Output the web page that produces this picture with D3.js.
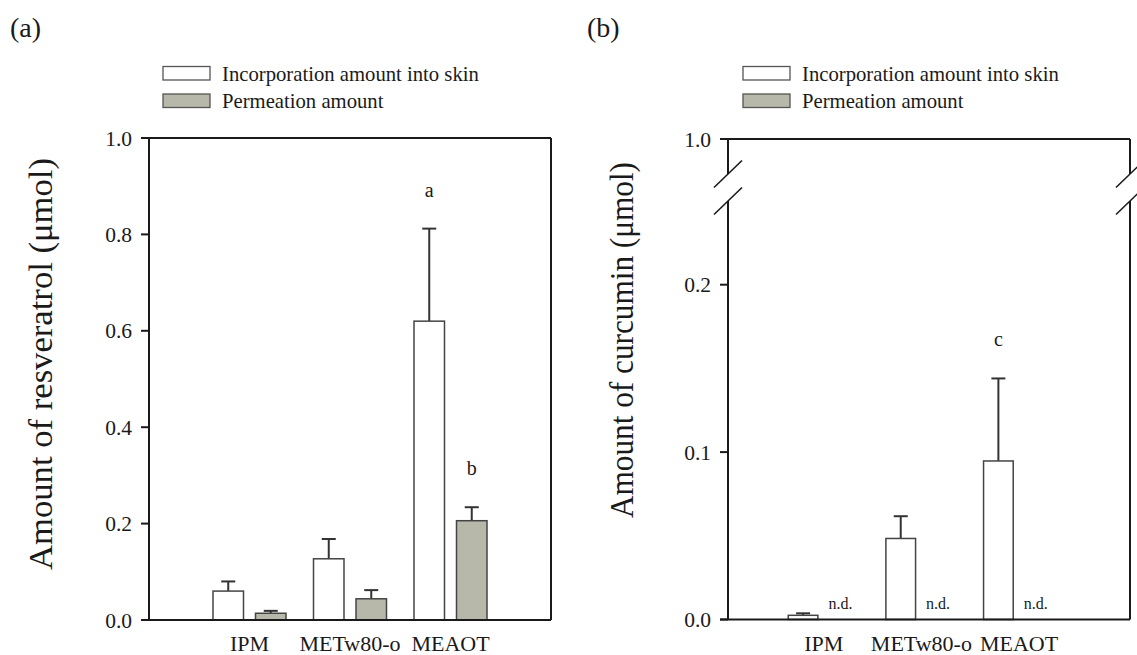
<!DOCTYPE html>
<html>
<head>
<meta charset="utf-8">
<script src="https://cdn.jsdelivr.net/npm/d3@7"></script>
<style>
  html, body { margin: 0; padding: 0; background: #fff; }
  svg { display: block; }
  text { font-family: "Liberation Serif", "DejaVu Serif", serif; fill: #1a1a1a; }
</style>
</head>
<body>
<svg id="chart" width="1137" height="655"></svg>
<script>
// ---------------- DATA ----------------
const categories = ["IPM", "METw80-o", "MEAOT"];
const seriesNames = ["Incorporation amount into skin", "Permeation amount"];

// Panel (a): resveratrol
const resvSkin    = [0.060, 0.127, 0.620];
const resvSkinErr = [0.020, 0.041, 0.192];
const resvPerm    = [0.014, 0.044, 0.206];
const resvPermErr = [0.005, 0.018, 0.028];
const resvTicks   = [0.0, 0.2, 0.4, 0.6, 0.8, 1.0];
const resvLetters = [{cat: "MEAOT", series: 0, text: "a"}, {cat: "MEAOT", series: 1, text: "b"}];

// Panel (b): curcumin (permeation not detected)
const curcSkin    = [0.0025, 0.0484, 0.0947];
const curcSkinErr = [0.0012, 0.0133, 0.0493];
const curcPerm    = [null, null, null];
const curcTicksLow  = [0.0, 0.1, 0.2];
const curcTicksHigh = [1.0];
const curcLetters = [{cat: "MEAOT", series: 0, text: "c"}];
const notDetectedLabel = "n.d.";

// ---------------- STYLE ----------------
const svg = d3.select("#chart");
const grayFill = "#b8b8aa";
const barStroke = "#444";
const axisColor = "#1a1a1a";

function drawLegend(x, y) {
  const g = svg.append("g").attr("transform", `translate(${x},${y})`);
  seriesNames.forEach((name, i) => {
    g.append("rect").attr("x", 0).attr("y", i * 27.5).attr("width", 47).attr("height", 13.5)
      .attr("fill", i === 0 ? "#fff" : grayFill).attr("stroke", "#555").attr("stroke-width", 1.3);
    g.append("text").attr("x", 59).attr("y", i * 27.5 + 14).attr("font-size", 20.7).text(name);
  });
}

function drawPanel(opts) {
  const { left, right, top, bottom, xRange, barHalf, skin, skinErr, perm, permErr, yLow, yHigh, lowTicks, highTicks, letters, label, labelX, labelY, labelLen, tag, tagX, legendX, broken } = opts;

  const x = d3.scalePoint().domain(categories).range(xRange);
  const sub = d3.scaleBand().domain([0, 1]).range([-barHalf, barHalf]).paddingInner(0.2824);

  const g = svg.append("g");

  const rows = categories.map((c, i) => ({ c, vals: [skin[i], perm[i]], errs: [skinErr[i], permErr ? permErr[i] : null] }));
  rows.forEach(r => {
    r.vals.forEach((v, s) => {
      const bx = x(r.c) + sub(s);
      const bw = sub.bandwidth();
      if (v === null) {
        g.append("text").attr("x", bx + bw / 2 - 4).attr("y", yLow(0) - 11)
          .attr("text-anchor", "middle").attr("font-size", 16).text(notDetectedLabel);
        return;
      }
      const e = r.errs[s];
      g.append("line").attr("x1", bx + bw / 2).attr("x2", bx + bw / 2)
        .attr("y1", yLow(v)).attr("y2", yLow(v + e)).attr("stroke", "#333").attr("stroke-width", 2);
      g.append("line").attr("x1", bx + bw / 2 - 7).attr("x2", bx + bw / 2 + 7)
        .attr("y1", yLow(v + e)).attr("y2", yLow(v + e)).attr("stroke", "#333").attr("stroke-width", 2);
      g.append("rect").attr("x", bx).attr("y", yLow(v)).attr("width", bw).attr("height", yLow(0) - yLow(v))
        .attr("fill", s === 0 ? "#fff" : grayFill).attr("stroke", barStroke).attr("stroke-width", 1.5);
    });
  });

  letters.forEach(l => {
    const i = categories.indexOf(l.cat);
    const v = l.series === 0 ? skin[i] + skinErr[i] : perm[i] + permErr[i];
    g.append("text").attr("x", x(l.cat) + sub(l.series) + sub.bandwidth() / 2).attr("y", yLow(v) - 32)
      .attr("text-anchor", "middle").attr("font-size", 20).text(l.text);
  });

  const ax = svg.append("g").attr("stroke", axisColor).attr("stroke-width", 2).attr("fill", "none");
  ax.append("line").attr("x1", left).attr("x2", right).attr("y1", top).attr("y2", top);
  ax.append("line").attr("x1", left - 8).attr("x2", right).attr("y1", bottom).attr("y2", bottom);
  if (broken) {
    const bTop = broken.top, bBot = broken.bottom;
    [left, right].forEach(xx => {
      ax.append("line").attr("x1", xx).attr("x2", xx).attr("y1", top).attr("y2", bTop);
      ax.append("line").attr("x1", xx).attr("x2", xx).attr("y1", bBot).attr("y2", bottom);
      [bTop, bBot].forEach(yc => {
        ax.append("line").attr("x1", xx - 14).attr("y1", yc + 13.5).attr("x2", xx + 14).attr("y2", yc - 13.5)
          .attr("stroke-width", 1.6);
      });
    });
  } else {
    [left, right].forEach(xx => ax.append("line").attr("x1", xx).attr("x2", xx).attr("y1", top).attr("y2", bottom));
  }

  const tickG = svg.append("g");
  const addTicks = (scale, ticks) => ticks.forEach(t => {
    tickG.append("line").attr("x1", left - 8).attr("x2", left).attr("y1", scale(t)).attr("y2", scale(t))
      .attr("stroke", axisColor).attr("stroke-width", 2);
    tickG.append("text").attr("x", left - 17).attr("y", scale(t)).attr("dy", "0.35em")
      .attr("text-anchor", "end").attr("font-size", 21.5).text(d3.format(".1f")(t));
  });
  addTicks(yLow, lowTicks);
  if (yHigh) addTicks(yHigh, highTicks);

  categories.forEach(c => {
    svg.append("text").attr("x", x(c)).attr("y", 651).attr("text-anchor", "middle")
      .attr("font-size", 22).text(c);
  });

  svg.append("text").attr("transform", `translate(${labelX},${labelY}) rotate(-90)`)
    .attr("text-anchor", "middle").attr("font-size", 33)
    .attr("textLength", labelLen).attr("lengthAdjust", "spacingAndGlyphs").text(label);

  svg.append("text").attr("x", tagX).attr("y", 37).attr("font-size", 28).text(tag);

  drawLegend(legendX, 66.5);
}

// Panel (a)
drawPanel({
  left: 149, right: 551, top: 138, bottom: 620,
  xRange: [249.5, 450.5], barHalf: 36.5,
  skin: resvSkin, skinErr: resvSkinErr, perm: resvPerm, permErr: resvPermErr,
  yLow: d3.scaleLinear().domain([0, 1]).range([620, 138]),
  yHigh: null, lowTicks: resvTicks, highTicks: [],
  letters: resvLetters,
  label: "Amount of resveratrol (μmol)", labelX: 52, labelY: 364, labelLen: 412,
  tag: "(a)", tagX: 10, legendX: 163, broken: null
});

// Panel (b)
drawPanel({
  left: 728, right: 1130, top: 139, bottom: 619.5,
  xRange: [823.75, 1019.05], barHalf: 35.5,
  skin: curcSkin, skinErr: curcSkinErr, perm: curcPerm, permErr: null,
  yLow: d3.scaleLinear().domain([0, 0.25]).range([619.5, 201]),
  yHigh: d3.scaleLinear().domain([0.9, 1.0]).range([174, 139]),
  lowTicks: curcTicksLow, highTicks: curcTicksHigh,
  letters: curcLetters,
  label: "Amount of curcumin (μmol)", labelX: 633, labelY: 340, labelLen: 356,
  tag: "(b)", tagX: 587, legendX: 743, broken: { top: 174, bottom: 201 }
});
</script>
</body>
</html>
